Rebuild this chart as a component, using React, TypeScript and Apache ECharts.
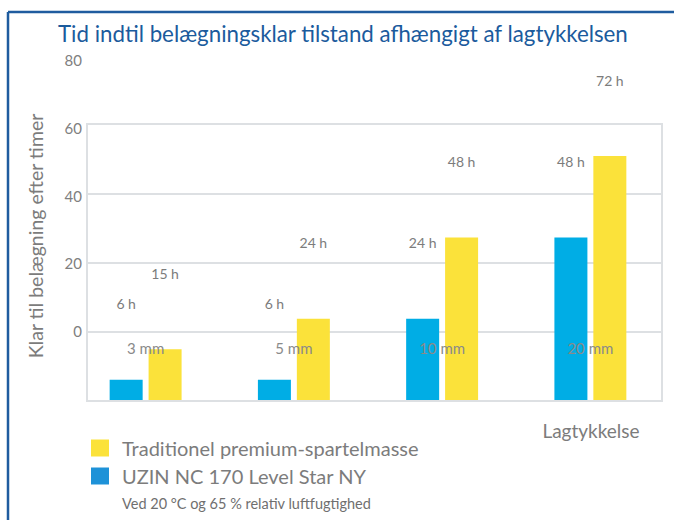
import React, { useEffect, useRef } from "react";
import * as echarts from "echarts";

const categories = ["3 mm", "5 mm", "10 mm", "20 mm"];
const uzinHours = [6, 6, 24, 48];
const traditionalHours = [15, 24, 48, 72];
const yTicks = [0, 20, 40, 60, 80];
const seriesNames = ["Traditionel premium-spartelmasse", "UZIN NC 170 Level Star NY"];
const titleText = "Tid indtil belægningsklar tilstand afhængigt af lagtykkelsen";
const yAxisTitle = "Klar til belægning efter timer";
const xAxisTitle = "Lagtykkelse";
const footnote = "Ved 20 °C og 65 % relativ luftfugtighed";

const FONT = "Lato";
const GRAY = "#7c7c7c";
const BLUE = "#00ade5";
const YELLOW = "#fbe23a";

export default function App() {
  const ref = useRef<HTMLDivElement>(null);
  useEffect(() => {
    if (!ref.current) return;
    const chart = echarts.init(ref.current, undefined, { renderer: "svg" });
    const yMin = yTicks[0];
    const yMax = yTicks[yTicks.length - 1];
    const step = yTicks[1] - yTicks[0];
    chart.setOption({
      animation: false,
      backgroundColor: "#ffffff",
      textStyle: { fontFamily: FONT },
      title: {
        text: titleText,
        left: 53,
        top: 17,
        textStyle: { color: "#1b5b9d", fontSize: 22.3, fontWeight: "normal", fontFamily: FONT },
      },
      legend: {
        orient: "vertical",
        left: 86,
        top: 433,
        itemWidth: 18,
        itemHeight: 17,
        itemGap: 8,
        icon: "rect",
        textStyle: { color: GRAY, fontSize: 20, fontFamily: FONT, padding: [0, 0, 0, 8] },
        data: [
          { name: seriesNames[0], itemStyle: { color: YELLOW } },
          { name: seriesNames[1], itemStyle: { color: "#1e92d8" } },
        ],
      },
      grid: [
        { left: 87, right: 12, top: 124, bottom: 119, show: true, borderColor: "#dde0e3", borderWidth: 2, backgroundColor: "transparent" },
        { left: 71.5, right: 9.5, top: 129, bottom: 120 },
        { left: 87, right: 12, top: 60, bottom: 189 },
      ],
      xAxis: [
        { gridIndex: 0, type: "value", show: false },
        {
          gridIndex: 1,
          type: "category",
          data: categories,
          z: 10,
          axisLine: { show: false },
          axisTick: { show: false },
          axisLabel: { margin: -60, color: "#8a8a8a", fontSize: 15, fontFamily: FONT },
        },
        { gridIndex: 2, type: "value", show: false },
      ],
      yAxis: [
        {
          gridIndex: 0,
          type: "value",
          min: yMin,
          max: yMax,
          interval: step,
          axisLabel: { show: false },
          axisLine: { show: false },
          axisTick: { show: false },
          splitLine: { lineStyle: { color: "#dde0e3", width: 2 } },
        },
        { gridIndex: 1, type: "value", min: yMin, max: yMax, show: false },
        {
          gridIndex: 2,
          type: "value",
          min: yMin,
          max: yMax,
          interval: step,
          axisLine: { show: false },
          axisTick: { show: false },
          splitLine: { show: false },
          axisLabel: { margin: 5, color: "#808080", fontSize: 15, fontFamily: FONT },
        },
      ],
      series: [
        {
          name: seriesNames[1],
          type: "bar",
          xAxisIndex: 1,
          yAxisIndex: 1,
          data: uzinHours,
          barWidth: 33,
          barGap: "18%",
          itemStyle: { color: BLUE },
          label: { show: true, position: "top", distance: 69, formatter: "{c} h", color: GRAY, fontSize: 14, fontFamily: FONT },
        },
        {
          name: seriesNames[0],
          type: "bar",
          xAxisIndex: 1,
          yAxisIndex: 1,
          data: traditionalHours,
          barWidth: 33,
          barGap: "18%",
          itemStyle: { color: YELLOW },
          label: { show: true, position: "top", distance: 69, formatter: "{c} h", color: GRAY, fontSize: 14, fontFamily: FONT },
        },
      ],
      graphic: [
        { type: "line", shape: { x1: 8, y1: 12, x2: 674, y2: 12 }, style: { stroke: "#1f5c9f", lineWidth: 2.5 } },
        { type: "line", shape: { x1: 8, y1: 12, x2: 8, y2: 520 }, style: { stroke: "#1f5c9f", lineWidth: 2.5 } },
        {
          type: "text",
          x: 35,
          y: 236,
          rotation: Math.PI / 2,
          style: { text: yAxisTitle, fill: GRAY, fontSize: 19.5, fontFamily: FONT, align: "center", verticalAlign: "middle" },
        },
        {
          type: "text",
          x: 591,
          y: 430,
          style: { text: xAxisTitle, fill: GRAY, fontSize: 19, fontFamily: FONT, align: "center", verticalAlign: "middle" },
        },
        {
          type: "text",
          x: 122,
          y: 503,
          style: { text: footnote, fill: "#6f6f6f", fontSize: 14.5, fontFamily: FONT, align: "left", verticalAlign: "middle" },
        },
      ],
    });
    return () => chart.dispose();
  }, []);
  return <div ref={ref} style={{ position: "fixed", left: 0, top: 0, width: 674, height: 520 }} />;
}
